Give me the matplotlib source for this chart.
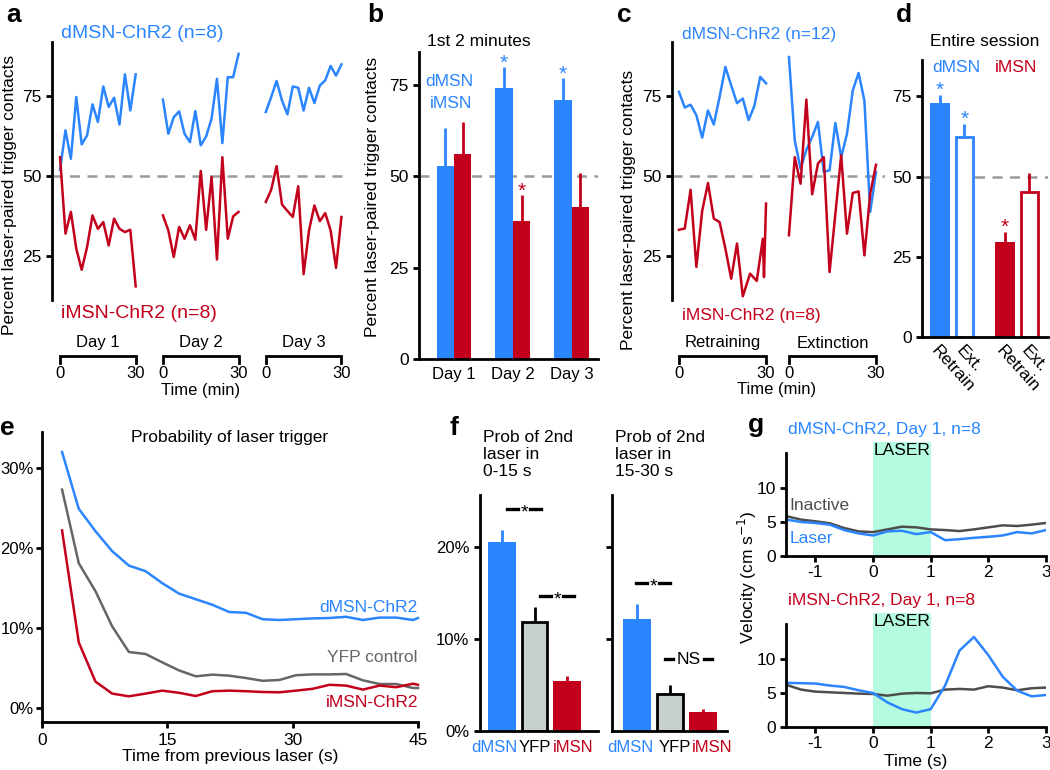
import numpy as np
import matplotlib
matplotlib.use('Agg')
import matplotlib.pyplot as plt
from matplotlib.lines import Line2D
from matplotlib.transforms import blended_transform_factory

plt.rcParams['font.family'] = ['Liberation Sans', 'DejaVu Sans']
plt.rcParams['font.size'] = 12.5
plt.rcParams['axes.unicode_minus'] = False
plt.rcParams['axes.linewidth'] = 2
plt.rcParams['xtick.major.width'] = 2
plt.rcParams['ytick.major.width'] = 2
plt.rcParams['xtick.major.size'] = 4
plt.rcParams['ytick.major.size'] = 4

BLUE = '#2a85ff'
RED = '#c3001b'
DASH = '#9a9a9a'
GREY = '#666666'
DKGREY = '#4d4d4d'
LASER = '#b4fbe0'
YFP = '#c8d0cc'

# ---- panel a : percent laser-paired contacts across days
a_t = np.linspace(0, 30, 15)
a_day_gap = 40.8
a_d = [
    [52, 64.3, 55.4, 74.7, 59.9, 62.7, 72.4, 66.9, 78, 71.6, 74.5, 66.1, 81.8, 70.5, 81.8],
    [73.9, 63.2, 68.4, 70.2, 63.2, 60.6, 70.3, 59.6, 62.4, 67.9, 80.4, 60.3, 80.9, 80.9, 88.2],
    [70, 74.7, 79.7, 73.6, 69.3, 78, 77.6, 70.5, 77.6, 72.8, 78.3, 79.9, 84.4, 81.4, 84.9],
]
a_i = [
    [55.9, 32, 38.8, 27.3, 20.7, 27.8, 37.7, 33.5, 35.6, 28.3, 36.7, 33.5, 32.5, 33.2, 15.5],
    [37.7, 33, 24.7, 34.1, 30.4, 34.6, 30.1, 51.6, 33.2, 49.7, 23.9, 55.9, 30.4, 37.4, 38.8],
    [41.9, 45.7, 53.1, 41.1, 39.1, 37.2, 46.8, 19.3, 33, 40.8, 35.9, 38.4, 33, 21.3, 37.2],
]
a_days = ['Day 1', 'Day 2', 'Day 3']

# ---- panel b : first 2 minutes
b_days = ['Day 1', 'Day 2', 'Day 3']
b_dmsn = [52.8, 74.1, 70.9]
b_dmsn_err = [10.4, 5.7, 5.9]
b_imsn = [56.2, 37.8, 41.7]
b_imsn_err = [8.7, 7.1, 9.2]
b_dmsn_sig = [False, True, True]
b_imsn_sig = [False, True, False]

# ---- panel c : retraining / extinction
c_t = np.arange(0, 31, 2)
c_ext_gap = 37.9
c_d_retrain = [76.3, 71.4, 72.3, 69, 62, 70.5, 66.1, 74.7, 84.1, 78.3, 72.8, 74.2, 67.5, 72, 81, 79]
c_i_retrain_t = [0, 2, 4, 6, 8, 10, 12, 14, 16, 18, 20, 22, 24.5, 26.8, 28.9, 29.3, 30]
c_i_retrain = [33.2, 33.6, 45.7, 21.6, 39.1, 47.8, 36.7, 35.6, 27.3, 17.9, 28.9, 12.4, 19.5, 17.2, 30.4, 18.4, 41.4]
c_d_ext = [87.2, 61.1, 52.3, 58.2, 62.2, 66.9, 51.3, 51.8, 66.6, 55.9, 63.2, 76.8, 82.2, 73.6, 38.8, 51.3]
c_i_ext = [31.5, 55.9, 47.6, 73.9, 44.3, 53.9, 55.9, 20, 38.2, 56.5, 32, 44.7, 45.2, 25.2, 44.5, 53.5]

# ---- panel d : entire session
d_labels = ['Retrain', 'Ext.', 'Retrain', 'Ext.']
d_vals = [73, 62.4, 29.5, 45.3]
d_err = [2.4, 3.9, 3.3, 5.7]
d_filled = [True, False, True, False]
d_cols = [BLUE, BLUE, RED, RED]
d_sig = [True, True, True, False]

# ---- panel e : probability of laser trigger
e_t = list(np.arange(2.4, 45, 2)) + [45]
e_dmsn = [32, 24.9, 22.1, 19.6, 17.8, 17.1, 15.6, 14.3, 13.6, 12.9, 12, 11.9,
          11.1, 11, 11.1, 11.2, 11.25, 11.4, 11, 11.3, 11.3, 11, 11.25]
e_yfp = [27.3, 18.1, 14.6, 10.2, 7, 6.75, 5.7, 4.7, 3.96, 4.17, 4.04, 3.75,
         3.4, 3.5, 4.1, 4.2, 4.2, 4.25, 3.46, 3, 3, 2.5, 2.5]
e_imsn = [22.2, 8.2, 3.3, 1.8, 1.46, 1.8, 2.17, 1.9, 1.5, 2.1, 2.17, 2.1,
          2, 1.96, 2.17, 2.4, 2.9, 2.8, 2.3, 2.8, 2.6, 3.04, 2.9]

# ---- panel f : probability of 2nd laser
f_groups = ['dMSN', 'YFP', 'iMSN']
f_early = [20.5, 11.8, 5.4]
f_early_err = [1.3, 1.7, 0.56]
f_late = [12.2, 4.04, 2.06]
f_late_err = [1.6, 0.96, 0.36]

# ---- panel g : velocity around laser
g_t = np.arange(-1.5, 3.01, 0.25)
g_d_inactive = [5.85, 5.35, 5.1, 4.8, 4.1, 3.6, 3.5, 3.9, 4.3, 4.2, 3.9, 3.8, 3.65, 3.9, 4.2, 4.5, 4.4, 4.6, 4.85]
g_d_laser = [5.35, 5.0, 4.85, 4.6, 3.8, 3.3, 3.0, 3.6, 3.7, 3.2, 3.5, 2.3, 2.45, 2.65, 2.8, 3.0, 3.5, 3.3, 3.8]
g_i_inactive = [6.2, 5.5, 5.2, 5.1, 5.0, 4.9, 4.85, 4.6, 4.9, 5.0, 4.95, 5.5, 5.6, 5.5, 6.0, 5.8, 5.4, 5.7, 5.8]
g_i_laser = [6.5, 6.45, 6.4, 6.1, 5.9, 5.4, 5.0, 3.6, 2.6, 2.1, 2.6, 6.1, 11.3, 13.3, 10.6, 7.4, 5.35, 4.5, 4.7]

W, H = 1050, 770
fig = plt.figure(figsize=(W / 100, H / 100), dpi=100)


def fx(px):
    return px / W


def fy(py):
    return 1 - py / H


def px_axes(l, t, r, b):
    ax = fig.add_axes([fx(l), fy(b), (r - l) / W, (b - t) / H])
    ax.spines['top'].set_visible(False)
    ax.spines['right'].set_visible(False)
    ax.patch.set_alpha(0)
    return ax


def ftext(px, py, s, **kw):
    fig.text(fx(px), fy(py), s, **kw)


def fline(x0, x1, py, color='k', lw=2.4):
    fig.add_artist(Line2D([fx(x0), fx(x1)], [fy(py), fy(py)], color=color, lw=lw,
                          transform=fig.transFigure))


def letter(px, py, s):
    ftext(px, py, s, fontsize=19, fontweight='bold', va='baseline')


def bracket(ax, x0, x1, label, ylab=343):
    tr = blended_transform_factory(ax.transData, fig.transFigure)
    ax.plot([x0, x0, x1, x1], [fy(363), fy(356), fy(356), fy(363)], color='k', lw=2,
            transform=tr, clip_on=False, solid_joinstyle='miter')
    ax.text((x0 + x1) / 2, fy(ylab), label, transform=tr, ha='center', va='center', fontsize=12)
    ax.text(x0, fy(373), '0', transform=tr, ha='center', va='center', fontsize=12)
    ax.text(x1, fy(373), '30', transform=tr, ha='center', va='center', fontsize=12)


LW = 1.8

# ================= a
ax = px_axes(52, 42, 350, 300)
ax.set_xlim(-3.2, 115)
ax.set_ylim(11.25, 91.9)
ax.spines['bottom'].set_visible(False)
ax.set_xticks([])
ax.set_yticks([25, 50, 75])
ax.axhline(50, color=DASH, lw=1.8, ls=(0, (4, 3)), xmax=1.0)
for k in range(3):
    xs = a_t + k * a_day_gap
    ax.plot(xs, a_d[k], color=BLUE, lw=LW)
    ax.plot(xs, a_i[k], color=RED, lw=LW)
    bracket(ax, k * a_day_gap, k * a_day_gap + 30, a_days[k])
ftext(61, 33, 'dMSN-ChR2 (n=8)', color=BLUE, va='center', fontsize=14)
ftext(61, 314, 'iMSN-ChR2 (n=8)', color=RED, va='center', fontsize=14)
ftext(10, 195, 'Percent laser-paired trigger contacts', rotation=90, ha='center', va='center')
ftext(201, 391, 'Time (min)', ha='center', va='center', fontsize=12)
letter(6, 22, 'a')

# ================= b
ax = px_axes(419, 52, 598, 359)
ax.set_xlim(-0.59, 2.445)
ax.set_ylim(0, 84)
ax.set_yticks([0, 25, 50, 75])
ax.axhline(50, color=DASH, lw=1.8, ls=(0, (4, 3)), zorder=0)
xb = np.arange(3)
off, bw = 0.148, 0.29
ax.bar(xb - off, b_dmsn, bw, color=BLUE, zorder=2)
ax.bar(xb + off, b_imsn, bw, color=RED, zorder=2)
ax.vlines(xb - off, b_dmsn, np.add(b_dmsn, b_dmsn_err), color=BLUE, lw=2, zorder=2)
ax.vlines(xb + off, b_imsn, np.add(b_imsn, b_imsn_err), color=RED, lw=2, zorder=2)
for i in range(3):
    if b_dmsn_sig[i]:
        ax.text(i - off, b_dmsn[i] + b_dmsn_err[i] - 1.5, '*', color=BLUE, ha='center', va='bottom', fontsize=15)
    if b_imsn_sig[i]:
        ax.text(i + off, b_imsn[i] + b_imsn_err[i] - 1.5, '*', color=RED, ha='center', va='bottom', fontsize=15)
ax.set_xticks(xb)
ax.set_xticklabels(b_days, fontsize=12)
ax.tick_params(axis='x', length=0, pad=6)
ftext(427, 42, '1st 2 minutes', va='center')
ftext(449, 82, 'dMSN', color=BLUE, ha='center', va='center')
ftext(451, 103, 'iMSN', color=BLUE, ha='center', va='center')
ftext(373, 197, 'Percent laser-paired trigger contacts', rotation=90, ha='center', va='center')
letter(367, 22, 'b')

# ================= c
ax = px_axes(672, 42, 885, 300)
ax.set_xlim(-2.4, 71)
ax.set_ylim(11.25, 91.9)
ax.spines['bottom'].set_visible(False)
ax.set_xticks([])
ax.set_yticks([25, 50, 75])
ax.axhline(50, color=DASH, lw=1.8, ls=(0, (4, 3)))
ax.plot(c_t, c_d_retrain, color=BLUE, lw=LW)
ax.plot(c_i_retrain_t, c_i_retrain, color=RED, lw=LW)
ax.plot(c_t + c_ext_gap, c_d_ext, color=BLUE, lw=LW)
ax.plot(c_t + c_ext_gap, c_i_ext, color=RED, lw=LW)
bracket(ax, 0, 30, 'Retraining')
bracket(ax, c_ext_gap, c_ext_gap + 30, 'Extinction')
ftext(682, 35, 'dMSN-ChR2 (n=12)', color=BLUE, va='center')
ftext(682, 315, 'iMSN-ChR2 (n=8)', color=RED, va='center')
ftext(628, 210, 'Percent laser-paired trigger contacts', rotation=90, ha='center', va='center')
ftext(777, 390, 'Time (min)', ha='center', va='center', fontsize=12)
letter(617, 22, 'c')

# ================= d
ax = px_axes(922, 60, 1048, 337)
ax.set_xlim(-0.73, 4.41)
ax.set_ylim(0, 86.3)
ax.set_yticks([0, 25, 50, 75])
ax.axhline(50, color=DASH, lw=1.8, ls=(0, (4, 3)), zorder=0)
xd = [0, 1, 2.65, 3.65]
for i in range(4):
    c = d_cols[i]
    if d_filled[i]:
        ax.bar(xd[i], d_vals[i], 0.8, color=c, zorder=2)
    else:
        ax.bar(xd[i], d_vals[i], 0.72, facecolor='white', edgecolor=c, lw=2, zorder=2)
    ax.vlines(xd[i], d_vals[i], d_vals[i] + d_err[i], color=c, lw=2, zorder=2)
    if d_sig[i]:
        ax.text(xd[i], d_vals[i] + d_err[i] - 1.5, '*', color=c, ha='center', va='bottom', fontsize=15)
ax.set_xticks(xd)
ax.set_xticklabels(d_labels, rotation=-48, ha='left', va='top', rotation_mode='anchor')
ax.tick_params(axis='x', length=0, pad=4)
ftext(985, 42, 'Entire session', ha='center', va='center')
ftext(932, 67, 'dMSN', color=BLUE, va='center')
ftext(995, 67, 'iMSN', color=RED, va='center')
letter(896, 22, 'd')

# ================= e
ax = px_axes(42, 432, 418, 722)
ax.set_xlim(0, 45)
ax.set_ylim(-1.75, 34.5)
ax.set_yticks([0, 10, 20, 30])
ax.set_yticklabels(['0%', '10%', '20%', '30%'], fontsize=12)
ax.tick_params(axis='y', pad=2)
ax.set_xticks([0, 15, 30, 45])
ax.tick_params(axis='x', pad=4)
ax.plot(e_t, e_dmsn, color=BLUE, lw=LW, clip_on=False)
ax.plot(e_t, e_yfp, color=GREY, lw=LW, clip_on=False)
ax.plot(e_t, e_imsn, color=RED, lw=LW, clip_on=False)
ax.text(0.5, 0.98, 'Probability of laser trigger', transform=ax.transAxes, ha='center', va='center')
ax.text(45, 11.6, 'dMSN-ChR2', color=BLUE, ha='right', va='bottom')
ax.text(45, 5.4, 'YFP control', color=GREY, ha='right', va='bottom')
ax.text(45, -0.2, 'iMSN-ChR2', color=RED, ha='right', va='bottom')
ax.set_xlabel('Time from previous laser (s)', labelpad=1)
letter(0, 435, 'e')

# ================= f
f_cols = [BLUE, YFP, RED]
f_lab_cols = [BLUE, 'k', RED]
for k, (l, r, vals, errs, title, labx) in enumerate([
        (480, 598, f_early, f_early_err, 'Prob of 2nd\nlaser in\n0-15 s', [494.5, 535, 573.5]),
        (612, 727, f_late, f_late_err, 'Prob of 2nd\nlaser in\n15-30 s', [630.5, 674.5, 712.5])]):
    ax = px_axes(l, 495, r, 731)
    ax.set_ylim(0, 25.65)
    if k == 0:
        ax.set_xlim(-0.68, 2.95)
        ax.set_yticks([0, 10, 20])
        ax.set_yticklabels(['0%', '10%', '20%'], fontsize=12)
    else:
        ax.set_xlim(-0.75, 2.73)
        ax.set_yticks([10, 20])
        ax.set_yticklabels([])
    xf = np.arange(3)
    for i in range(3):
        if i == 1:
            ax.bar(xf[i], vals[i], 0.78, facecolor=YFP, edgecolor='k', lw=2, zorder=2)
            ax.vlines(xf[i], vals[i], vals[i] + errs[i], color='k', lw=2, zorder=2)
        else:
            ax.bar(xf[i], vals[i], 0.86, color=f_cols[i], zorder=2)
            ax.vlines(xf[i], vals[i], vals[i] + errs[i], color=f_cols[i], lw=2, zorder=2)
    ax.set_xticks([])
    for i in range(3):
        ftext(labx[i], 747, f_groups[i], color=f_lab_cols[i], ha='center', va='center', fontsize=12)
    ftext(l + 3, 430, title, va='top', linespacing=1.15)

# significance markers
for cx, py, s in [(524, 509, '*'), (557, 596, '*'), (653, 583, '*')]:
    fline(cx - 17, cx - 6, py)
    fline(cx + 6, cx + 17, py)
    ftext(cx, py + 4, s, ha='center', va='center', fontsize=14)
fline(665, 673, 659)
fline(704, 712, 659)
ftext(689, 659, 'NS', ha='center', va='center')
letter(449, 435, 'f')

# ================= g
for k, (t, b, inact, las, title, tc) in enumerate([
        (441.7, 555.7, g_d_inactive, g_d_laser, 'dMSN-ChR2, Day 1, n=8', BLUE),
        (612.7, 726.7, g_i_inactive, g_i_laser, 'iMSN-ChR2, Day 1, n=8', RED)]):
    ax = px_axes(786, t, 1046, b)
    ax.set_xlim(-1.51, 3)
    ax.set_ylim(0, 16.9)
    ax.spines['left'].set_bounds(0, 15.2)
    ax.axvspan(0, 1, color=LASER, lw=0, zorder=0)
    ax.plot(g_t, inact, color=DKGREY, lw=LW)
    ax.plot(g_t, las, color=BLUE, lw=LW)
    ax.set_yticks([0, 5, 10])
    ax.set_xticks([-1, 0, 1, 2, 3])
    ax.tick_params(axis='x', pad=3)
    ax.text(0.5, 16.7, 'LASER', ha='center', va='top')
    ftext(788, t - 12, title, color=tc, va='center')
    if k == 0:
        ax.text(-1.45, 6.4, 'Inactive', color=DKGREY, va='bottom')
        ax.text(-1.45, 2.6, 'Laser', color=BLUE, va='center')
    else:
        ax.set_xlabel('Time (s)', labelpad=2)
ftext(747, 577, 'Velocity (cm s$^{-1}$)', rotation=90, ha='center', va='center')
letter(748, 432, 'g')

fig.savefig('out.png', dpi=100)
